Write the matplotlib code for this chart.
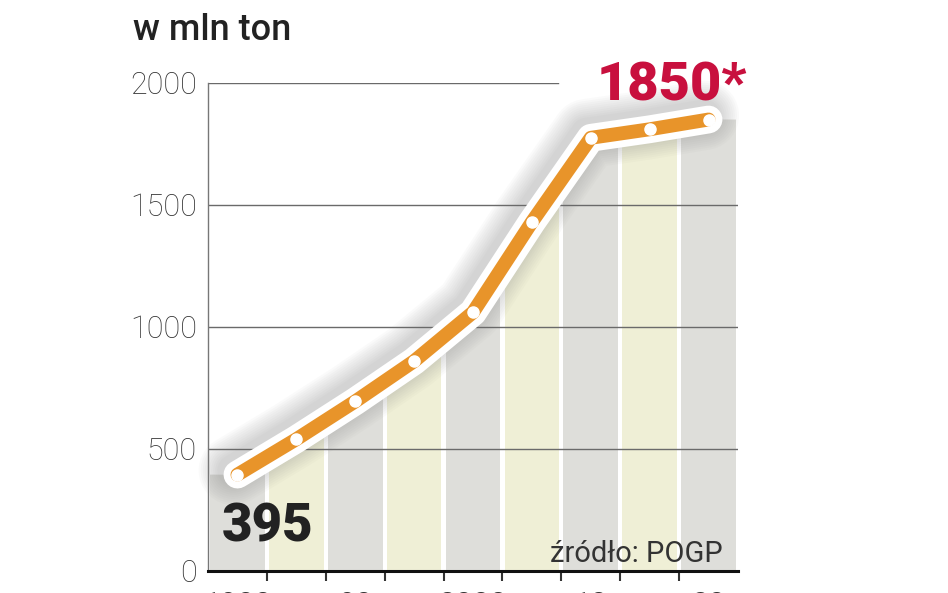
"""Line chart over alternating bands: w mln ton, 395 -> 1850*."""

import matplotlib

matplotlib.use("Agg")

import matplotlib.pyplot as plt
import matplotlib.patheffects as pe
from matplotlib.patches import Polygon
import numpy as np

# data
tick_labels = ["1980", "", "90", "", "2000", "", "10", "", "20"]
values = [395, 540, 695, 860, 1060, 1430, 1775, 1810, 1850]
yticks = [0, 500, 1000, 1500, 2000]
first_label = "395"
last_label = "1850*"
unit_label = "w mln ton"
source_label = "źródło: POGP"

ORANGE = "#E8942A"
GRAY_BAND = "#DEDEDA"
YELLOW_BAND = "#EFEFD6"
RED = "#C8103E"
TEXT = "#222222"

plt.rcParams["font.family"] = ["Roboto", "DejaVu Sans"]

fig = plt.figure(figsize=(9.48, 5.93), dpi=100)
ax = fig.add_axes([0.2194, 0.0371, 0.5591, 0.8231])

x = np.arange(len(values))
n = len(values)

# background columns, filled only below the line
band_colors = [GRAY_BAND if i % 2 == 0 else YELLOW_BAND for i in x]
bars = ax.bar(x, [yticks[-1]] * n, width=0.93, color=band_colors, zorder=1)
area = [(-0.5, 0), (-0.5, values[0])]
area += list(zip(x, values))
area += [(n - 0.5, values[-1]), (n - 0.5, 0)]
clip = Polygon(area, closed=True, transform=ax.transData)
for bar in bars:
    bar.set_clip_path(clip)

for y in yticks[1:-1]:
    ax.axhline(y, color="#6a6a6a", linewidth=1.0, zorder=2)
ax.axhline(yticks[-1], xmax=0.66, color="#6a6a6a", linewidth=1.0, zorder=2)

# soft grey glow, then white halo, then the orange line
glow = [
    pe.Stroke(linewidth=w, foreground="#808080", alpha=0.035, offset=(-3, 3))
    for w in range(50, 22, -3)
]
ax.plot(
    x,
    values,
    color=ORANGE,
    linewidth=10,
    solid_capstyle="round",
    solid_joinstyle="round",
    zorder=3,
    clip_on=False,
    path_effects=glow + [pe.Stroke(linewidth=20, foreground="white"), pe.Normal()],
)
ax.plot(x, values, "o", color="white", markersize=8, zorder=4, clip_on=False)

ax.set_xlim(-0.5, n - 0.5)
ax.set_ylim(0, yticks[-1])
ax.set_yticks(yticks)
ax.set_yticklabels([str(v) for v in yticks], fontsize=22, color="#333333",
                   fontweight="light")
ax.tick_params(axis="y", length=0, pad=8)

ax.set_xticks(x)
ax.set_xticklabels(tick_labels, fontsize=22, color="#333333")
ax.set_xticks(np.arange(0.5, n - 1, 1.0), minor=True)
ax.tick_params(axis="x", which="major", length=0, pad=14.5)
ax.tick_params(axis="x", which="minor", length=7.5, width=1.5, color="#333333")

for side in ("top", "right"):
    ax.spines[side].set_visible(False)
ax.spines["left"].set_color("#777777")
ax.spines["left"].set_linewidth(1.0)
ax.spines["bottom"].set_color("#111111")
ax.spines["bottom"].set_linewidth(2.2)
ax.spines["bottom"].set_zorder(5)

ax.text(0.026, 0.06, first_label, transform=ax.transAxes, fontsize=38,
        fontweight="black", color=TEXT, ha="left", va="baseline", zorder=6)
ax.text(0.733, 0.963, last_label, transform=ax.transAxes, fontsize=39,
        fontweight="black", color=RED, ha="left", va="baseline", zorder=6)
ax.text(0.972, 0.018, source_label, transform=ax.transAxes, fontsize=21,
        color="#333333", ha="right", va="baseline", zorder=6)
fig.text(0.140, 0.9325, unit_label, fontsize=26, color=TEXT,
         fontweight="medium", ha="left", va="baseline")

fig.savefig("out.png", dpi=100)
plt.close(fig)
